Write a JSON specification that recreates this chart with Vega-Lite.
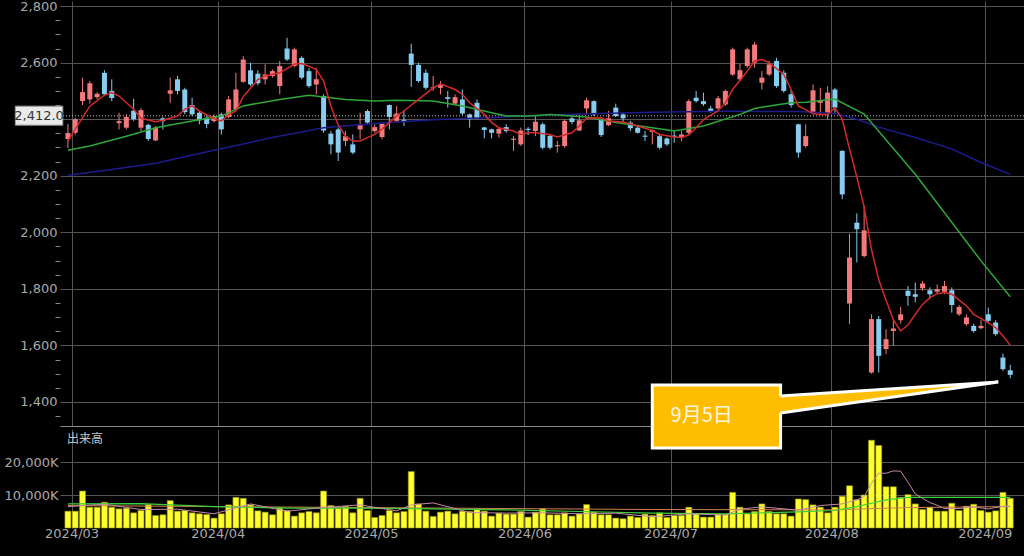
{
  "$schema": "https://vega.github.io/schema/vega-lite/v6.json",
  "background": "#000000",
  "padding": {"left": 0, "top": 0, "right": 4, "bottom": 16},
  "bounds": "flush",
  "spacing": 3,
  "config": {
    "view": {"stroke": null},
    "axis": {"labelFont": "DejaVu Sans", "labelFontSize": 13, "labelColor": "#a9a9a9", "gridColor": "#555555", "gridWidth": 1, "domain": false, "ticks": false, "title": null, "labelOverlap": false}
  },
  "datasets": {
    "k": [
      {"i":0,"o":2330,"h":2383,"l":2298,"c":2351,"v":5100},
      {"i":1,"o":2352,"h":2405,"l":2345,"c":2400,"v":5100},
      {"i":2,"o":2464,"h":2547,"l":2450,"c":2496,"v":11200},
      {"i":3,"o":2470,"h":2535,"l":2455,"c":2527,"v":6300},
      {"i":4,"o":2478,"h":2495,"l":2470,"c":2490,"v":6300},
      {"i":5,"o":2564,"h":2573,"l":2482,"c":2488,"v":7800},
      {"i":6,"o":2500,"h":2541,"l":2464,"c":2475,"v":6300},
      {"i":7,"o":2386,"h":2423,"l":2364,"c":2393,"v":5800},
      {"i":8,"o":2370,"h":2418,"l":2364,"c":2408,"v":6000},
      {"i":9,"o":2430,"h":2472,"l":2394,"c":2400,"v":4600},
      {"i":10,"o":2370,"h":2440,"l":2358,"c":2432,"v":5300},
      {"i":11,"o":2380,"h":2384,"l":2323,"c":2330,"v":7100},
      {"i":12,"o":2325,"h":2376,"l":2322,"c":2370,"v":3800},
      {"i":13,"o":2403,"h":2408,"l":2364,"c":2393,"v":4000},
      {"i":14,"o":2490,"h":2547,"l":2458,"c":2502,"v":8300},
      {"i":15,"o":2541,"h":2553,"l":2488,"c":2500,"v":5100},
      {"i":16,"o":2505,"h":2511,"l":2417,"c":2425,"v":5300},
      {"i":17,"o":2450,"h":2476,"l":2411,"c":2417,"v":4600},
      {"i":18,"o":2423,"h":2429,"l":2382,"c":2396,"v":4300},
      {"i":19,"o":2405,"h":2415,"l":2368,"c":2383,"v":4100},
      {"i":20,"o":2393,"h":2417,"l":2388,"c":2411,"v":3000},
      {"i":21,"o":2417,"h":2423,"l":2346,"c":2364,"v":4300},
      {"i":22,"o":2408,"h":2482,"l":2403,"c":2470,"v":7000},
      {"i":23,"o":2435,"h":2564,"l":2429,"c":2505,"v":9300},
      {"i":24,"o":2532,"h":2623,"l":2529,"c":2611,"v":9000},
      {"i":25,"o":2573,"h":2600,"l":2517,"c":2523,"v":7000},
      {"i":26,"o":2561,"h":2573,"l":2520,"c":2527,"v":5200},
      {"i":27,"o":2541,"h":2594,"l":2523,"c":2558,"v":4800},
      {"i":28,"o":2553,"h":2576,"l":2547,"c":2570,"v":4000},
      {"i":29,"o":2517,"h":2606,"l":2488,"c":2588,"v":6100},
      {"i":30,"o":2650,"h":2688,"l":2606,"c":2611,"v":5300},
      {"i":31,"o":2588,"h":2653,"l":2584,"c":2647,"v":3600},
      {"i":32,"o":2617,"h":2623,"l":2541,"c":2547,"v":4600},
      {"i":33,"o":2570,"h":2580,"l":2511,"c":2517,"v":5000},
      {"i":34,"o":2523,"h":2582,"l":2488,"c":2541,"v":4600},
      {"i":35,"o":2482,"h":2488,"l":2352,"c":2360,"v":11200},
      {"i":36,"o":2349,"h":2358,"l":2276,"c":2311,"v":6800},
      {"i":37,"o":2364,"h":2370,"l":2252,"c":2282,"v":6000},
      {"i":38,"o":2323,"h":2358,"l":2305,"c":2340,"v":6600},
      {"i":39,"o":2311,"h":2346,"l":2276,"c":2282,"v":4600},
      {"i":40,"o":2364,"h":2423,"l":2329,"c":2382,"v":9000},
      {"i":41,"o":2429,"h":2435,"l":2382,"c":2388,"v":5300},
      {"i":42,"o":2358,"h":2382,"l":2352,"c":2372,"v":3200},
      {"i":43,"o":2337,"h":2388,"l":2329,"c":2384,"v":3800},
      {"i":44,"o":2450,"h":2452,"l":2364,"c":2408,"v":5300},
      {"i":45,"o":2394,"h":2447,"l":2388,"c":2420,"v":4600},
      {"i":46,"o":2398,"h":2431,"l":2376,"c":2394,"v":5000},
      {"i":47,"o":2632,"h":2667,"l":2514,"c":2592,"v":17100},
      {"i":48,"o":2592,"h":2600,"l":2529,"c":2535,"v":7300},
      {"i":49,"o":2564,"h":2576,"l":2505,"c":2511,"v":5100},
      {"i":50,"o":2509,"h":2553,"l":2500,"c":2513,"v":3500},
      {"i":51,"o":2511,"h":2535,"l":2488,"c":2520,"v":4800},
      {"i":52,"o":2478,"h":2500,"l":2441,"c":2472,"v":5100},
      {"i":53,"o":2455,"h":2488,"l":2452,"c":2478,"v":4300},
      {"i":54,"o":2470,"h":2505,"l":2415,"c":2420,"v":5100},
      {"i":55,"o":2417,"h":2420,"l":2370,"c":2400,"v":5000},
      {"i":56,"o":2458,"h":2470,"l":2400,"c":2403,"v":5800},
      {"i":57,"o":2371,"h":2372,"l":2332,"c":2362,"v":5100},
      {"i":58,"o":2364,"h":2366,"l":2332,"c":2352,"v":3600},
      {"i":59,"o":2349,"h":2370,"l":2335,"c":2366,"v":4500},
      {"i":60,"o":2372,"h":2382,"l":2352,"c":2358,"v":4200},
      {"i":61,"o":2327,"h":2340,"l":2288,"c":2331,"v":4200},
      {"i":62,"o":2311,"h":2370,"l":2305,"c":2360,"v":5000},
      {"i":63,"o":2366,"h":2372,"l":2344,"c":2362,"v":3300},
      {"i":64,"o":2358,"h":2411,"l":2340,"c":2391,"v":4800},
      {"i":65,"o":2382,"h":2388,"l":2293,"c":2299,"v":5800},
      {"i":66,"o":2341,"h":2346,"l":2293,"c":2299,"v":4000},
      {"i":67,"o":2304,"h":2323,"l":2282,"c":2308,"v":4000},
      {"i":68,"o":2305,"h":2400,"l":2299,"c":2394,"v":4600},
      {"i":69,"o":2403,"h":2411,"l":2382,"c":2390,"v":3600},
      {"i":70,"o":2360,"h":2417,"l":2358,"c":2396,"v":4300},
      {"i":71,"o":2438,"h":2476,"l":2417,"c":2467,"v":7100},
      {"i":72,"o":2464,"h":2467,"l":2411,"c":2417,"v":4800},
      {"i":73,"o":2400,"h":2403,"l":2337,"c":2344,"v":4000},
      {"i":74,"o":2379,"h":2429,"l":2376,"c":2403,"v":4000},
      {"i":75,"o":2441,"h":2455,"l":2408,"c":2411,"v":3000},
      {"i":76,"o":2417,"h":2423,"l":2388,"c":2403,"v":2800},
      {"i":77,"o":2388,"h":2394,"l":2358,"c":2368,"v":3600},
      {"i":78,"o":2370,"h":2376,"l":2349,"c":2352,"v":3200},
      {"i":79,"o":2342,"h":2358,"l":2323,"c":2338,"v":4200},
      {"i":80,"o":2355,"h":2364,"l":2311,"c":2362,"v":3800},
      {"i":81,"o":2340,"h":2346,"l":2293,"c":2299,"v":4600},
      {"i":82,"o":2332,"h":2335,"l":2305,"c":2311,"v":3200},
      {"i":83,"o":2342,"h":2358,"l":2317,"c":2338,"v":3800},
      {"i":84,"o":2335,"h":2358,"l":2323,"c":2346,"v":3800},
      {"i":85,"o":2352,"h":2470,"l":2346,"c":2464,"v":6300},
      {"i":86,"o":2476,"h":2500,"l":2458,"c":2464,"v":4300},
      {"i":87,"o":2464,"h":2494,"l":2447,"c":2453,"v":3300},
      {"i":88,"o":2438,"h":2447,"l":2423,"c":2429,"v":3300},
      {"i":89,"o":2438,"h":2482,"l":2435,"c":2474,"v":4200},
      {"i":90,"o":2452,"h":2505,"l":2447,"c":2500,"v":4200},
      {"i":91,"o":2558,"h":2653,"l":2553,"c":2647,"v":10800},
      {"i":92,"o":2541,"h":2596,"l":2535,"c":2573,"v":6300},
      {"i":93,"o":2588,"h":2653,"l":2582,"c":2647,"v":4300},
      {"i":94,"o":2600,"h":2673,"l":2582,"c":2664,"v":5000},
      {"i":95,"o":2529,"h":2570,"l":2505,"c":2547,"v":7300},
      {"i":96,"o":2558,"h":2606,"l":2553,"c":2594,"v":5000},
      {"i":97,"o":2606,"h":2617,"l":2511,"c":2517,"v":4300},
      {"i":98,"o":2564,"h":2573,"l":2494,"c":2500,"v":4300},
      {"i":99,"o":2488,"h":2505,"l":2441,"c":2450,"v":3600},
      {"i":100,"o":2382,"h":2384,"l":2264,"c":2282,"v":8800},
      {"i":101,"o":2305,"h":2382,"l":2299,"c":2340,"v":8600},
      {"i":102,"o":2423,"h":2523,"l":2417,"c":2502,"v":7000},
      {"i":103,"o":2458,"h":2511,"l":2417,"c":2465,"v":6300},
      {"i":104,"o":2423,"h":2517,"l":2399,"c":2494,"v":4600},
      {"i":105,"o":2505,"h":2511,"l":2423,"c":2441,"v":6300},
      {"i":106,"o":2288,"h":2290,"l":2117,"c":2134,"v":9600},
      {"i":107,"o":1748,"h":1995,"l":1675,"c":1911,"v":12800},
      {"i":108,"o":2034,"h":2067,"l":1893,"c":2011,"v":8600},
      {"i":109,"o":1916,"h":2093,"l":1911,"c":2007,"v":10000},
      {"i":110,"o":1504,"h":1710,"l":1500,"c":1693,"v":26600},
      {"i":111,"o":1693,"h":1704,"l":1504,"c":1563,"v":25000},
      {"i":112,"o":1587,"h":1657,"l":1569,"c":1622,"v":12500},
      {"i":113,"o":1651,"h":1687,"l":1598,"c":1660,"v":12500},
      {"i":114,"o":1689,"h":1736,"l":1677,"c":1710,"v":9300},
      {"i":115,"o":1793,"h":1810,"l":1740,"c":1775,"v":10100},
      {"i":116,"o":1781,"h":1822,"l":1752,"c":1772,"v":7300},
      {"i":117,"o":1802,"h":1828,"l":1793,"c":1819,"v":5600},
      {"i":118,"o":1795,"h":1805,"l":1763,"c":1781,"v":6300},
      {"i":119,"o":1790,"h":1816,"l":1781,"c":1799,"v":5100},
      {"i":120,"o":1790,"h":1828,"l":1781,"c":1810,"v":5100},
      {"i":121,"o":1795,"h":1805,"l":1716,"c":1743,"v":7500},
      {"i":122,"o":1710,"h":1743,"l":1704,"c":1736,"v":5300},
      {"i":123,"o":1675,"h":1710,"l":1669,"c":1699,"v":6600},
      {"i":124,"o":1669,"h":1677,"l":1645,"c":1651,"v":7200},
      {"i":125,"o":1661,"h":1689,"l":1657,"c":1669,"v":5300},
      {"i":126,"o":1710,"h":1734,"l":1681,"c":1687,"v":4800},
      {"i":127,"o":1681,"h":1689,"l":1634,"c":1640,"v":5200},
      {"i":128,"o":1557,"h":1571,"l":1510,"c":1516,"v":10800},
      {"i":129,"o":1512,"h":1531,"l":1484,"c":1496,"v":9000}
    ],
    "ma5": [
      {"i":0,"v":2323},{"i":1,"v":2365},{"i":3,"v":2446},{"i":5,"v":2485},{"i":6,"v":2494},{"i":7,"v":2482},{"i":9,"v":2435},{"i":10,"v":2403},{"i":12,"v":2391},{"i":13,"v":2396},{"i":15,"v":2411},{"i":16,"v":2435},{"i":17,"v":2447},{"i":18,"v":2429},{"i":20,"v":2402},{"i":21,"v":2394},{"i":22,"v":2415},{"i":23,"v":2429},{"i":24,"v":2480},{"i":26,"v":2540},{"i":27,"v":2553},{"i":29,"v":2564},{"i":31,"v":2594},{"i":32,"v":2597},{"i":34,"v":2576},{"i":35,"v":2535},{"i":36,"v":2447},{"i":37,"v":2380},{"i":38,"v":2340},{"i":39,"v":2323},{"i":40,"v":2323},{"i":41,"v":2335},{"i":42,"v":2346},{"i":43,"v":2365},{"i":45,"v":2411},{"i":46,"v":2429},{"i":48,"v":2470},{"i":50,"v":2511},{"i":51,"v":2525},{"i":53,"v":2505},{"i":54,"v":2488},{"i":55,"v":2458},{"i":57,"v":2417},{"i":58,"v":2388},{"i":59,"v":2370},{"i":61,"v":2358},{"i":62,"v":2346},{"i":63,"v":2352},{"i":64,"v":2352},{"i":66,"v":2346},{"i":67,"v":2337},{"i":69,"v":2352},{"i":70,"v":2376},{"i":71,"v":2403},{"i":73,"v":2405},{"i":74,"v":2394},{"i":76,"v":2390},{"i":78,"v":2376},{"i":80,"v":2360},{"i":81,"v":2346},{"i":83,"v":2337},{"i":84,"v":2335},{"i":85,"v":2345},{"i":86,"v":2370},{"i":87,"v":2399},{"i":89,"v":2429},{"i":90,"v":2458},{"i":91,"v":2505},{"i":93,"v":2570},{"i":94,"v":2606},{"i":95,"v":2611},{"i":96,"v":2600},{"i":98,"v":2558},{"i":99,"v":2505},{"i":100,"v":2447},{"i":102,"v":2420},{"i":103,"v":2417},{"i":104,"v":2417},{"i":105,"v":2440},{"i":106,"v":2400},{"i":107,"v":2295},{"i":108,"v":2195},{"i":109,"v":2090},{"i":110,"v":1940},{"i":111,"v":1832},{"i":112,"v":1760},{"i":113,"v":1690},{"i":114,"v":1651},{"i":115,"v":1672},{"i":116,"v":1710},{"i":117,"v":1745},{"i":118,"v":1769},{"i":119,"v":1783},{"i":120,"v":1787},{"i":121,"v":1781},{"i":122,"v":1760},{"i":123,"v":1740},{"i":124,"v":1710},{"i":126,"v":1680},{"i":127,"v":1663},{"i":128,"v":1634},{"i":129,"v":1600}
    ],
    "ma25": [
      {"i":0,"v":2290},{"i":3,"v":2305},{"i":8,"v":2340},{"i":12,"v":2370},{"i":17,"v":2394},{"i":21,"v":2411},{"i":24,"v":2447},{"i":29,"v":2470},{"i":33,"v":2485},{"i":38,"v":2470},{"i":42,"v":2464},{"i":45,"v":2467},{"i":50,"v":2464},{"i":54,"v":2447},{"i":58,"v":2423},{"i":60,"v":2411},{"i":63,"v":2411},{"i":66,"v":2417},{"i":71,"v":2408},{"i":75,"v":2388},{"i":80,"v":2370},{"i":83,"v":2358},{"i":87,"v":2376},{"i":92,"v":2417},{"i":94,"v":2438},{"i":96,"v":2447},{"i":99,"v":2458},{"i":101,"v":2460},{"i":105,"v":2471},{"i":109,"v":2418},{"i":116,"v":2205},{"i":125,"v":1899},{"i":129,"v":1772}
    ],
    "ma75": [
      {"i":0,"v":2202},{"i":6,"v":2222},{"i":12,"v":2244},{"i":20,"v":2290},{"i":28,"v":2335},{"i":35,"v":2370},{"i":42,"v":2385},{"i":50,"v":2398},{"i":60,"v":2408},{"i":70,"v":2418},{"i":80,"v":2425},{"i":90,"v":2428},{"i":100,"v":2427},{"i":105,"v":2420},{"i":108,"v":2400},{"i":111,"v":2372},{"i":116,"v":2335},{"i":121,"v":2295},{"i":125,"v":2247},{"i":129,"v":2205}
    ],
    "vma5": [
      {"i":0,"v":6500},{"i":5,"v":7200},{"i":10,"v":5600},{"i":15,"v":5700},{"i":20,"v":4300},{"i":25,"v":7300},{"i":30,"v":5100},{"i":35,"v":6200},{"i":40,"v":7000},{"i":45,"v":5200},{"i":47,"v":7000},{"i":50,"v":7600},{"i":55,"v":4700},{"i":60,"v":4500},{"i":65,"v":4600},{"i":70,"v":4300},{"i":75,"v":4500},{"i":80,"v":3400},{"i":85,"v":4300},{"i":90,"v":3900},{"i":92,"v":5700},{"i":95,"v":6400},{"i":100,"v":5400},{"i":103,"v":6800},{"i":106,"v":7300},{"i":108,"v":8500},{"i":109,"v":9500},{"i":110,"v":13500},{"i":111,"v":16600},{"i":112,"v":16600},{"i":113,"v":17300},{"i":114,"v":17200},{"i":115,"v":13900},{"i":116,"v":10300},{"i":117,"v":9000},{"i":118,"v":7700},{"i":119,"v":6900},{"i":120,"v":5900},{"i":122,"v":5900},{"i":124,"v":6400},{"i":126,"v":5800},{"i":128,"v":6600},{"i":129,"v":6600}
    ],
    "vma25": [
      {"i":0,"v":7300},{"i":10,"v":7400},{"i":20,"v":6500},{"i":30,"v":6000},{"i":40,"v":6000},{"i":50,"v":5800},{"i":60,"v":5500},{"i":70,"v":5000},{"i":80,"v":4500},{"i":90,"v":4300},{"i":100,"v":4900},{"i":105,"v":5300},{"i":108,"v":6500},{"i":110,"v":7500},{"i":112,"v":8500},{"i":115,"v":9300},{"i":120,"v":9300},{"i":125,"v":9300},{"i":129,"v":9300}
    ],
    "vma75": [
      {"i":0,"v":6800},{"i":40,"v":6200},{"i":80,"v":5600},{"i":105,"v":5500},{"i":115,"v":6200},{"i":129,"v":6500}
    ],
    "wedge": [
      {"i":97.2,"y":40000,"y2":34848},
      {"i":127.37,"y":44242,"y2":44242}
    ],
    "wedgeline": [
      {"k":0,"i":97.56,"y":40000},
      {"k":1,"i":127.37,"y":44242},
      {"k":2,"i":97.56,"y":34848}
    ]
  },
  "vconcat": [
    {
      "width": 964,
      "height": 425,
      "resolve": {"axis": {"y": "independent"}},
      "layer": [
        {
          "data": {"name": "k"},
          "mark": {"type": "rule", "strokeWidth": 1},
          "encoding": {
            "x": {"field": "i", "type": "quantitative",
              "scale": {"domain": [-0.4, 130.2], "nice": false, "zero": false},
              "axis": {"values": [0.5, 20.5, 41.5, 62.5, 82.5, 104.5, 125.5], "grid": true, "labels": false, "ticks": false, "domain": true, "domainColor": "#8c8c8c", "title": null}},
            "y": {"field": "l", "type": "quantitative",
              "scale": {"domain": [1315, 2818], "nice": false, "zero": false},
              "axis": {"values": [1400, 1600, 1800, 2000, 2200, 2600, 2800], "format": ",d",
                "grid": true, "ticks": false, "labelPadding": 3, "minExtent": 60, "maxExtent": 60, "title": null}},
            "y2": {"field": "h"},
            "color": {"condition": {"test": "datum.c >= datum.o", "value": "#f27a7c"}, "value": "#86cdef"}
          }
        },
        {
          "data": {"name": "k"},
          "mark": {"type": "bar", "size": 5},
          "encoding": {
            "x": {"field": "i", "type": "quantitative"},
            "y": {"field": "o", "type": "quantitative",
              "axis": {"orient": "left", "values": [1350,1450,1500,1550,1650,1700,1750,1850,1900,1950,2050,2100,2150,2250,2300,2350,2450,2500,2550,2650,2700,2750],
                "labels": false, "grid": false, "ticks": true, "tickSize": 5, "tickColor": "#8a8a8a", "domain": false, "title": null}},
            "y2": {"field": "c"},
            "color": {"condition": {"test": "datum.c >= datum.o", "value": "#f27a7c"}, "value": "#86cdef"}
          }
        },
        {
          "data": {"values": [{}]},
          "mark": {"type": "rule", "color": "#c8c8c8", "strokeWidth": 1, "strokeDash": [1, 2]},
          "encoding": {"y": {"datum": 2412, "axis": null}}
        },
        {
          "data": {"name": "ma75"},
          "mark": {"type": "line", "color": "#1c1c8e", "strokeWidth": 1.5},
          "encoding": {"x": {"field": "i", "type": "quantitative"}, "y": {"field": "v", "type": "quantitative",
            "axis": {"orient": "left", "values": [2400], "labels": false, "ticks": false, "grid": true, "domain": false, "title": null}}}
        },
        {
          "data": {"name": "ma25"},
          "mark": {"type": "line", "color": "#2fa83a", "strokeWidth": 1.5},
          "encoding": {"x": {"field": "i", "type": "quantitative"}, "y": {"field": "v", "type": "quantitative", "axis": null}}
        },
        {
          "data": {"name": "ma5"},
          "mark": {"type": "line", "color": "#d42a2a", "strokeWidth": 1.5},
          "encoding": {"x": {"field": "i", "type": "quantitative"}, "y": {"field": "v", "type": "quantitative", "axis": null}}
        },
        {
          "data": {"values": [{}]},
          "mark": {"type": "rect", "fill": "#eaeaea", "stroke": "#9a9a9a", "strokeWidth": 1},
          "encoding": {"x": {"datum": -7.2}, "x2": {"datum": -0.7}, "y": {"datum": 2446, "axis": null}, "y2": {"datum": 2379}}
        },
        {
          "data": {"values": [{}]},
          "mark": {"type": "text", "text": "2,412.0", "font": "DejaVu Sans", "fontSize": 13, "color": "#333333", "align": "center", "baseline": "middle"},
          "encoding": {"x": {"datum": -3.95}, "y": {"datum": 2412, "axis": null}}
        }
      ]
    },
    {
      "width": 964,
      "height": 99,
      "layer": [
        {
          "data": {"name": "k"},
          "mark": {"type": "bar", "size": 6, "fill": "#ffff2e", "stroke": "#8f8f14", "strokeWidth": 0.6},
          "encoding": {
            "x": {"field": "i", "type": "quantitative",
              "scale": {"domain": [-0.4, 130.2], "nice": false, "zero": false},
              "axis": {"values": [0.5, 20.5, 41.5, 62.5, 82.5, 104.5, 125.5], "grid": true, "ticks": false, "domain": false, "labelPadding": -1,
                "labelExpr": "['2024/03','2024/04','2024/05','2024/06','2024/07','2024/08','2024/09'][indexof([0.5,20.5,41.5,62.5,82.5,104.5,125.5], datum.value)]", "title": null}},
            "y": {"field": "v", "type": "quantitative",
              "scale": {"domain": [0, 30000], "nice": false, "zero": false},
              "axis": {"values": [10000, 20000], "grid": true, "ticks": false, "labelPadding": 2,
                "labelExpr": "format(datum.value, ',') + 'K'", "minExtent": 60, "maxExtent": 60, "title": null}}
          }
        },
        {
          "data": {"name": "vma75"},
          "mark": {"type": "line", "color": "#d0804c", "strokeWidth": 1},
          "encoding": {"x": {"field": "i", "type": "quantitative"}, "y": {"field": "v", "type": "quantitative"}}
        },
        {
          "data": {"name": "vma25"},
          "mark": {"type": "line", "color": "#3ccf3c", "strokeWidth": 1.2},
          "encoding": {"x": {"field": "i", "type": "quantitative"}, "y": {"field": "v", "type": "quantitative"}}
        },
        {
          "data": {"name": "vma5"},
          "mark": {"type": "line", "color": "#c48aa8", "strokeWidth": 1},
          "encoding": {"x": {"field": "i", "type": "quantitative"}, "y": {"field": "v", "type": "quantitative"}}
        },
        {
          "data": {"values": [{}]},
          "mark": {"type": "text", "text": "出来高", "font": "Noto Sans CJK JP", "fontSize": 12, "color": "#c8c8c8", "align": "left", "baseline": "middle", "dx": 2},
          "encoding": {"x": {"datum": -0.4}, "y": {"datum": 27000}}
        },
        {
          "data": {"values": [{}]},
          "mark": {"type": "rect", "fill": "#ffbd00", "stroke": "#ffffff", "strokeWidth": 3},
          "encoding": {"x": {"datum": 80.0}, "x2": {"datum": 97.56}, "y": {"datum": 43333}, "y2": {"datum": 24242}}
        },
        {
          "data": {"name": "wedge"},
          "mark": {"type": "area", "fill": "#ffbd00"},
          "encoding": {"x": {"field": "i", "type": "quantitative"}, "y": {"field": "y", "type": "quantitative"}, "y2": {"field": "y2"}}
        },
        {
          "data": {"name": "wedgeline"},
          "mark": {"type": "line", "color": "#ffffff", "strokeWidth": 3, "strokeJoin": "miter"},
          "encoding": {"x": {"field": "i", "type": "quantitative"}, "y": {"field": "y", "type": "quantitative"}, "order": {"field": "k"}}
        },
        {
          "data": {"values": [{}]},
          "mark": {"type": "text", "text": "9月5日", "font": "Noto Sans CJK JP", "fontSize": 20, "color": "#fff6e0", "align": "left", "baseline": "middle"},
          "encoding": {"x": {"datum": 82.5}, "y": {"datum": 33939}}
        }
      ]
    }
  ]
}
